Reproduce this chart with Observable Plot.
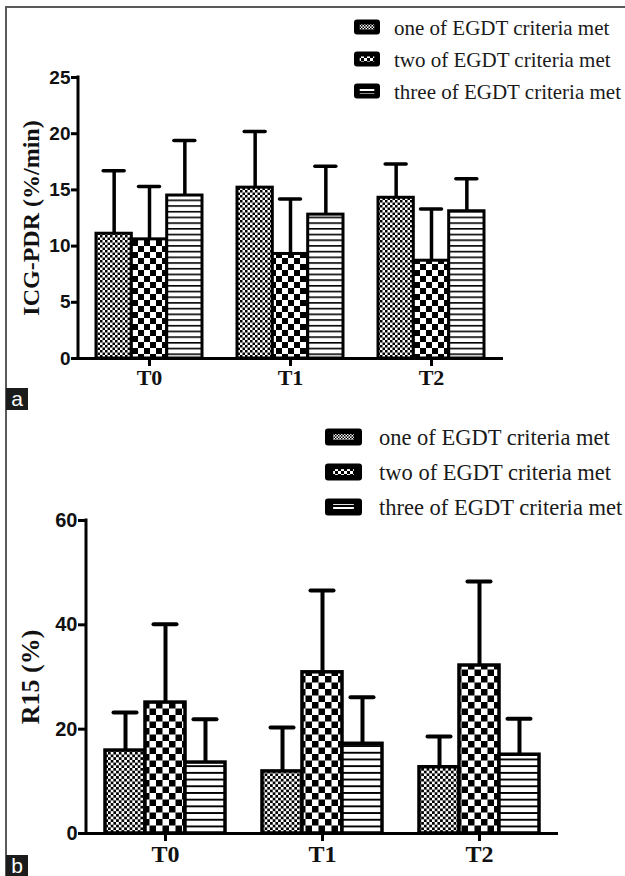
<!DOCTYPE html>
<html><head><meta charset="utf-8">
<script src="https://cdn.jsdelivr.net/npm/d3@7"></script>
<script src="https://cdn.jsdelivr.net/npm/@observablehq/plot@0.6"></script>
<style>
body{margin:0;background:#fff;}
#root{position:relative;width:625px;height:876px;overflow:hidden;background:#fff;}
.frame{position:absolute;left:5px;top:6px;width:640px;height:880px;border-left:2px solid #5a5a5a;border-top:2px solid #5a5a5a;}
.panel{position:absolute;left:0;}
.tag{position:absolute;left:6px;width:22px;background:#1c1c1c;color:#fff;font-family:"Liberation Sans",Arial,sans-serif;font-size:21px;text-align:center;}
</style></head>
<body>
<svg width="0" height="0" style="position:absolute">
<defs>
<pattern id="pa1" patternUnits="userSpaceOnUse" width="5" height="5"><rect width="5" height="5" fill="#fff"/><rect width="2.5" height="2.5" fill="#000"/><rect x="2.5" y="2.5" width="2.5" height="2.5" fill="#000"/></pattern>
<pattern id="pa2" patternUnits="userSpaceOnUse" width="12" height="12"><rect width="12" height="12" fill="#fff"/><rect width="6" height="6" fill="#000"/><rect x="6" y="6" width="6" height="6" fill="#000"/></pattern>
<pattern id="pa3" patternUnits="userSpaceOnUse" width="6" height="5.7"><rect width="6" height="5.7" fill="#fff"/><rect width="6" height="1.6" fill="#000"/></pattern>
<pattern id="pb1" patternUnits="userSpaceOnUse" width="5.4" height="5.4"><rect width="5.4" height="5.4" fill="#fff"/><rect width="2.7" height="2.7" fill="#000"/><rect x="2.7" y="2.7" width="2.7" height="2.7" fill="#000"/></pattern>
<pattern id="pb2" patternUnits="userSpaceOnUse" width="13" height="13"><rect width="13" height="13" fill="#fff"/><rect width="6.5" height="6.5" fill="#000"/><rect x="6.5" y="6.5" width="6.5" height="6.5" fill="#000"/></pattern>
<pattern id="pb3" patternUnits="userSpaceOnUse" width="6" height="6.7"><rect width="6" height="6.7" fill="#fff"/><rect width="6" height="1.9" fill="#000"/></pattern>
<pattern id="lg1" patternUnits="userSpaceOnUse" width="3" height="3"><rect width="3" height="3" fill="#fff"/><rect width="1.5" height="1.5" fill="#000"/><rect x="1.5" y="1.5" width="1.5" height="1.5" fill="#000"/></pattern>
<pattern id="lg2" patternUnits="userSpaceOnUse" width="6" height="6"><rect width="6" height="6" fill="#fff"/><rect width="3" height="3" fill="#000"/><rect x="3" y="3" width="3" height="3" fill="#000"/></pattern>
<pattern id="lg3" patternUnits="userSpaceOnUse" width="6" height="4"><rect width="6" height="4" fill="#fff"/><rect width="6" height="2" fill="#000"/></pattern>
</defs>
</svg>
<div id="root"><div class="frame"></div></div>
<script>
// ---------- data ----------
const times = ["T0", "T1", "T2"];
const groups = ["one of EGDT criteria met", "two of EGDT criteria met", "three of EGDT criteria met"];

const icgOne = [11.1, 15.2, 14.3];
const icgTwo = [10.6, 9.3, 8.7];
const icgThree = [14.5, 12.8, 13.1];
const icgOneSD = [5.6, 5.0, 3.0];
const icgTwoSD = [4.7, 4.9, 4.6];
const icgThreeSD = [4.9, 4.3, 2.9];
const icgTicks = [0, 5, 10, 15, 20, 25];

const r15One = [15.9, 11.9, 12.7];
const r15Two = [25.1, 30.9, 32.2];
const r15Three = [13.6, 17.2, 15.1];
const r15OneSD = [7.3, 8.4, 5.9];
const r15TwoSD = [15.0, 15.7, 16.1];
const r15ThreeSD = [8.3, 8.9, 6.9];
const r15Ticks = [0, 20, 40, 60];

const SERIF = "Liberation Serif, Times New Roman, serif";
const SANS = "Liberation Sans, Arial, sans-serif";
const NS = "http://www.w3.org/2000/svg";

function rows(means, sds) {
  return means.flatMap((m, k) => m.map((v, i) => ({
    time: times[i], group: groups[k], k, mean: v, upper: v + sds[k][i]
  })));
}

const root = document.getElementById("root");

function panel(cfg) {
  const {data, yMax, ticks, label, top, H, mt, mb, ml, mr, pi, po, pats,
         barSW, errSW, capW, yFont, xFont, labFont, labDx, tickY, tickX} = cfg;
  const W = 625;
  const step = (W - ml - mr) / (times.length - pi + 2 * po);
  const bw = step * (1 - pi);
  const marks = [];
  for (let k = 0; k < 3; k++) {
    const sub = data.filter(d => d.k === k);
    const off = (k - 1) * bw / 3;
    marks.push(Plot.ruleX(sub, {x: "time", y1: "mean", y2: "upper", dx: off, stroke: "#000", strokeWidth: errSW}));
    marks.push(Plot.tickY(sub, {x: "time", y: "upper", dx: off, insetLeft: (bw - capW) / 2, insetRight: (bw - capW) / 2,
      stroke: "#000", strokeWidth: errSW, strokeLinecap: "round"}));
    marks.push(Plot.barY(sub, {x: "time", y: "mean", fill: pats[k], stroke: "#000", strokeWidth: barSW,
      insetLeft: k * bw / 3, insetRight: (2 - k) * bw / 3}));
  }
  marks.push(Plot.ruleY([0], {stroke: "#000", strokeWidth: 3}));
  // y axis line drawn from the y scale
  marks.push((index, scales, values, dims) => {
    const l = document.createElementNS(NS, "line");
    l.setAttribute("x1", dims.marginLeft); l.setAttribute("x2", dims.marginLeft);
    l.setAttribute("y1", scales.y(0)); l.setAttribute("y2", scales.y(yMax));
    l.setAttribute("stroke", "#000"); l.setAttribute("stroke-width", 3);
    l.setAttribute("stroke-linecap", "square");
    return l;
  });
  marks.push(Plot.axisY({ticks, tickSize: tickY, tickPadding: 1, strokeWidth: 3, label: null,
    fontSize: yFont, fontWeight: "bold", fontFamily: SANS, fill: "#111"}));
  marks.push(Plot.axisX({tickSize: tickX, tickPadding: 3, strokeWidth: 3, label: null,
    fontSize: xFont, fontWeight: "bold", fontFamily: SERIF, fill: "#111"}));
  marks.push(Plot.text([label], {frameAnchor: "left", textAnchor: "middle", rotate: -90, dx: labDx, text: d => d,
    fontSize: labFont, fontWeight: "bold", fontFamily: SERIF, fill: "#111"}));
  const svg = Plot.plot({
    width: W, height: H,
    marginTop: mt, marginBottom: mb, marginLeft: ml, marginRight: mr,
    x: {type: "band", domain: times, paddingInner: pi, paddingOuter: po},
    y: {domain: [0, yMax]},
    style: {background: "transparent", overflow: "visible", color: "#000"},
    marks
  });
  const wrap = document.createElement("div");
  wrap.className = "panel";
  wrap.style.top = top + "px";
  wrap.appendChild(svg);
  root.appendChild(wrap);
}

function legend(cfg) {
  const {rowsY, sx, sw, sh, tx, fs} = cfg;
  const pats = ["url(#lg1)", "url(#lg2)", "url(#lg3)"];
  const y0 = rowsY[0] - 20, h = rowsY[2] - rowsY[0] + 40;
  const s = document.createElementNS(NS, "svg");
  s.setAttribute("width", 625 - sx + 2); s.setAttribute("height", h);
  s.style.position = "absolute"; s.style.left = (sx - 2) + "px"; s.style.top = y0 + "px";
  s.style.overflow = "visible";
  let html = "";
  groups.forEach((g, k) => {
    const cy = rowsY[k] - y0;
    html += `<rect x="2" y="${cy - sh / 2}" width="${sw}" height="${sh}" rx="3" fill="#000"/>` +
      `<rect x="${2 + sw * 0.22}" y="${cy - sh * 0.17}" width="${sw * 0.56}" height="${sh * 0.34}" fill="${pats[k]}"/>` +
      `<text x="${tx - sx + 2}" y="${cy}" dy="0.36em" font-family="${SERIF}" font-size="${fs}" fill="#1a1a1a">${g}</text>`;
  });
  s.innerHTML = html;
  root.appendChild(s);
}

panel({
  data: rows([icgOne, icgTwo, icgThree], [icgOneSD, icgTwoSD, icgThreeSD]),
  yMax: 25, ticks: icgTicks, label: "ICG-PDR (%/min)",
  top: 0, H: 388, mt: 77, mb: 30, ml: 78, mr: 122, pi: 0.248, po: 0.131,
  pats: ["url(#pa1)", "url(#pa2)", "url(#pa3)"],
  barSW: 3, errSW: 3.5, capW: 21, yFont: 19, xFont: 22, labFont: 24, labDx: -47, tickY: 7, tickX: 8
});
panel({
  data: rows([r15One, r15Two, r15Three], [r15OneSD, r15TwoSD, r15ThreeSD]),
  yMax: 60, ticks: r15Ticks, label: "R15 (%)",
  top: 390, H: 486, mt: 130, mb: 43, ml: 86, mr: 67, pi: 0.236, po: 0.121,
  pats: ["url(#pb1)", "url(#pb2)", "url(#pb3)"],
  barSW: 3.5, errSW: 4, capW: 23, yFont: 20, xFont: 24, labFont: 26, labDx: -56, tickY: 8, tickX: 8
});

legend({rowsY: [27, 59, 91], sx: 354, sw: 26, sh: 15, tx: 394, fs: 21});
legend({rowsY: [437, 472, 507], sx: 325, sw: 37, sh: 17, tx: 379, fs: 22.5});

const ta = document.createElement("div");
ta.className = "tag"; ta.style.top = "388px"; ta.style.height = "22px"; ta.style.lineHeight = "21px"; ta.textContent = "a";
root.appendChild(ta);
const tb = document.createElement("div");
tb.className = "tag"; tb.style.top = "855px"; tb.style.height = "21px"; tb.style.lineHeight = "21px"; tb.textContent = "b";
root.appendChild(tb);
</script>
</body></html>
